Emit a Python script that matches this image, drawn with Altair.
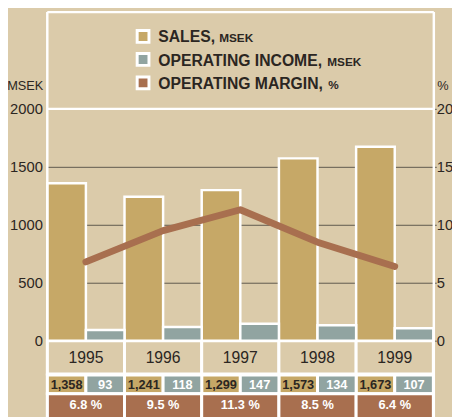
import altair as alt
import pandas as pd

years = ["1995", "1996", "1997", "1998", "1999"]
sales = [1358, 1241, 1299, 1573, 1673]
income = [93, 118, 147, 134, 107]
margin = [6.8, 9.5, 11.3, 8.5, 6.4]
series = ["Sales", "Income"]
legend_main = ["SALES,", "OPERATING INCOME,", "OPERATING MARGIN,"]
legend_unit = ["MSEK", "MSEK", "%"]
left_ticks = [0, 500, 1000, 1500, 2000]
right_ticks = [0, 5, 10, 15, 20]

BG = "#DBCBAA"
GOLD = "#C6A867"
TEAL = "#91A4A1"
BROWN = "#A86F4F"
INK = "#2B2622"
GRID = "#5E584C"
SANS = "Liberation Sans, Arial, Helvetica, sans-serif"
W, H = 393, 236

bars_df = pd.DataFrame({
    "Year": years * 2,
    "Series": [series[0]] * 5 + [series[1]] * 5,
    "Value": sales + income,
})
bars_df["Label"] = bars_df["Value"].map(lambda v: f"{v:,}")
margin_df = pd.DataFrame({"Year": years, "Margin": margin})
margin_df["Label"] = margin_df["Margin"].map(lambda v: f"{v:.1f} %")

x = alt.X("Year:N", scale=alt.Scale(domain=years, paddingInner=0, paddingOuter=0), axis=None)
xoff = alt.XOffset("Series:N", scale=alt.Scale(domain=series, paddingInner=0, paddingOuter=0))
color = alt.Color("Series:N", scale=alt.Scale(domain=series, range=[GOLD, TEAL]), legend=None)

base = alt.Chart(bars_df)
mbase = alt.Chart(margin_df)
one = alt.Chart(alt.Data(values=[{"k": 1}]))

bars = base.mark_bar(stroke="white", strokeWidth=2.5).encode(
    x=x, xOffset=xoff, color=color,
    y=alt.Y("Value:Q", scale=alt.Scale(domain=[0, 2000], nice=False),
            axis=alt.Axis(values=left_ticks, format="d", grid=True, gridColor=GRID, gridWidth=1,
                          ticks=False, domain=False, labelPadding=5, title=None,
                          labelFont=SANS, labelFontSize=15, labelColor=INK)),
)

line = mbase.mark_line(color=BROWN, strokeWidth=7, strokeCap="round", strokeJoin="round").encode(
    x=x,
    y=alt.Y("Margin:Q", scale=alt.Scale(domain=[0, 20], nice=False),
            axis=alt.Axis(orient="right", values=right_ticks, format="d", grid=False, tickSize=3,
                          tickColor=GRID, domain=False, labelPadding=0, title=None,
                          labelFont=SANS, labelFontSize=15, labelColor=INK)),
)

year_cells = mbase.mark_bar(fill=BG, stroke="white", strokeWidth=3).encode(
    x=x, y=alt.value(236), y2=alt.value(270))
year_text = mbase.mark_text(font=SANS, fontSize=16, color=INK, baseline="middle").encode(
    x=x, y=alt.value(253.5), text="Year:N")

value_cells = base.mark_bar(stroke="white", strokeWidth=3).encode(
    x=x, xOffset=xoff, color=color, y=alt.value(271), y2=alt.value(290))
value_text = base.mark_text(font=SANS, fontWeight="bold", fontSize=13, baseline="middle").encode(
    x=x, xOffset=xoff, y=alt.value(281.5), text="Label:N",
    color=alt.condition(alt.datum.Series == "Sales", alt.value(INK), alt.value("white")))

margin_cells = mbase.mark_bar(fill=BROWN, stroke="white", strokeWidth=3).encode(
    x=x, y=alt.value(290), y2=alt.value(330))
margin_text = mbase.mark_text(font=SANS, fontWeight="bold", fontSize=13, color="white",
                              baseline="middle").encode(
    x=x, y=alt.value(301.5), text="Label:N")

frame = [
    one.mark_rule(color="white", strokeWidth=2.5).encode(x=alt.value(0), y=alt.value(-98.5), y2=alt.value(330)),
    one.mark_rule(color="white", strokeWidth=2.5).encode(x=alt.value(393.5), y=alt.value(-98.5), y2=alt.value(330)),
    one.mark_rule(color="white", strokeWidth=2.5).encode(y=alt.value(-98.5), x=alt.value(0), x2=alt.value(393.5)),
    one.mark_rule(color="white", strokeWidth=2.5).encode(y=alt.value(0), x=alt.value(0), x2=alt.value(393.5)),
]

titles = [
    one.mark_text(text="MSEK", font=SANS, fontSize=13, color=INK, align="right",
                  baseline="alphabetic").encode(x=alt.value(-4), y=alt.value(-18.7)),
    one.mark_text(text="%", font=SANS, fontSize=13, color=INK, align="left",
                  baseline="alphabetic").encode(x=alt.value(397), y=alt.value(-18.7)),
]

legend = []
row_centers = [-73.7, -50.3, -26.5]
row_base = [-67.7, -44.0, -19.8]
unit_x = [175, 285, 286]
for i, col in enumerate([GOLD, TEAL, BROWN]):
    c = row_centers[i]
    legend.append(one.mark_rect(fill=col, stroke="white", strokeWidth=3).encode(
        x=alt.value(91.5), x2=alt.value(103.5), y=alt.value(c - 6), y2=alt.value(c + 6)))
    legend.append(one.mark_text(text=legend_main[i], font=SANS, fontWeight="bold", fontSize=16,
                                color=INK, align="left", baseline="alphabetic").encode(
        x=alt.value(113), y=alt.value(row_base[i])))
    legend.append(one.mark_text(text=legend_unit[i], font=SANS, fontWeight="bold", fontSize=12,
                                color=INK, align="left", baseline="alphabetic").encode(
        x=alt.value(unit_x[i]), y=alt.value(row_base[i])))

chart = alt.layer(
    year_cells, value_cells, margin_cells, bars, *frame, line,
    year_text, value_text, margin_text, *titles, *legend,
).resolve_scale(y="independent").properties(
    width=W, height=H, autosize="none",
    padding={"left": 40, "top": 99, "right": 19, "bottom": 74},
).configure(background=BG).configure_view(stroke=None)

chart.save("out.html", embed_options={"renderer": "svg", "actions": False})
